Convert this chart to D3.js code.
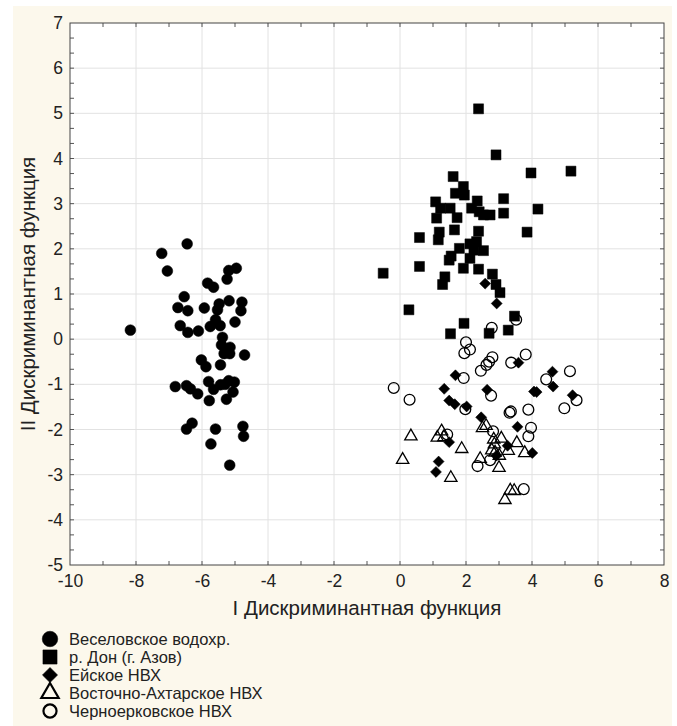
<!DOCTYPE html>
<html><head><meta charset="utf-8">
<script src="https://cdn.jsdelivr.net/npm/d3@7"></script>
<style>body{margin:0;background:#fff}svg{display:block;font-family:"Liberation Sans",Arial,sans-serif}</style>
</head><body><svg id="c" width="677" height="726"></svg>
<script>
const xTicks = [-10,-8,-6,-4,-2,0,2,4,6,8];
const yTicks = [-5,-4,-3,-2,-1,0,1,2,3,4,5,6,7];
const xTitle = "I Дискриминантная функция";
const yTitle = "II Дискриминантная функция";
const seriesNames = ["Веселовское водохр.","р. Дон (г. Азов)","Ейское НВХ","Восточно-Ахтарское НВХ","Черноерковское НВХ"];

const veselovskoe = [[-6.45,2.11],[-7.22,1.90],[-7.05,1.51],[-4.96,1.57],[-5.19,1.52],[-5.24,1.33],[-5.83,1.24],[-5.65,1.15],[-6.54,0.94],[-6.73,0.70],[-6.43,0.63],[-5.93,0.69],[-5.48,0.78],[-5.53,0.65],[-5.18,0.85],[-4.79,0.82],[-4.82,0.63],[-8.17,0.20],[-6.66,0.30],[-6.43,0.15],[-6.11,0.18],[-5.75,0.28],[-5.59,0.43],[-5.45,0.30],[-5.00,0.38],[-5.38,0.04],[-5.41,-0.13],[-5.15,-0.18],[-5.33,-0.32],[-5.16,-0.32],[-4.71,-0.35],[-6.02,-0.46],[-5.88,-0.61],[-5.44,-0.57],[-6.81,-1.05],[-6.47,-1.03],[-6.35,-1.10],[-6.13,-1.21],[-5.80,-0.94],[-5.65,-1.11],[-5.78,-1.36],[-5.44,-1.01],[-5.19,-0.92],[-5.02,-0.95],[-5.06,-1.17],[-5.26,-1.33],[-5.30,-1.00],[-6.30,-1.86],[-6.47,-1.99],[-5.59,-1.99],[-4.76,-1.93],[-4.74,-2.15],[-5.73,-2.32],[-5.16,-2.79]];
const don = [[2.38,5.10],[2.91,4.08],[3.97,3.68],[5.18,3.72],[1.61,3.60],[1.92,3.38],[1.68,3.23],[1.95,3.19],[1.08,3.04],[3.14,3.11],[2.34,3.06],[1.23,2.90],[1.52,2.90],[2.17,2.90],[2.40,2.82],[2.73,2.75],[2.53,2.75],[3.14,2.79],[4.18,2.88],[1.11,2.68],[1.73,2.69],[1.65,2.42],[1.19,2.37],[0.59,2.25],[1.16,2.20],[2.38,2.39],[3.85,2.37],[2.32,2.16],[2.12,2.11],[1.80,2.01],[2.24,1.97],[2.53,1.96],[1.55,1.84],[1.49,1.75],[2.12,1.79],[0.59,1.61],[-0.51,1.46],[1.92,1.57],[2.38,1.55],[1.36,1.38],[1.29,1.21],[2.80,1.44],[2.91,1.21],[3.03,1.03],[0.27,0.65],[3.47,0.51],[1.94,0.35],[3.28,0.20],[1.53,0.12],[2.70,0.13]];
const eyskoe = [[2.58,1.23],[2.93,0.79],[3.59,-0.52],[1.68,-0.80],[1.34,-1.10],[2.64,-1.12],[1.49,-1.36],[1.66,-1.44],[2.02,-1.49],[4.62,-0.72],[4.64,-1.05],[4.06,-1.16],[4.14,-1.17],[5.23,-1.24],[2.46,-1.73],[3.56,-1.94],[1.49,-2.28],[3.26,-2.36],[4.01,-2.52],[1.17,-2.71],[1.09,-2.94],[2.92,-2.58]];
const vostAkht = [[0.33,-2.15],[0.08,-2.67],[1.13,-2.18],[1.26,-2.04],[1.33,-2.17],[1.87,-2.43],[1.54,-3.07],[2.50,-1.97],[2.61,-1.92],[2.84,-2.22],[2.86,-2.33],[3.07,-2.20],[2.88,-2.51],[3.01,-2.58],[3.28,-2.47],[3.54,-2.30],[3.78,-2.52],[2.43,-2.65],[3.00,-2.85],[3.18,-3.56],[3.34,-3.35],[3.46,-3.36],[2.78,-2.46]];
const chernoerk = [[-0.19,-1.08],[0.29,-1.34],[2.00,-0.07],[2.12,-0.23],[1.95,-0.31],[1.93,-0.86],[1.98,-1.55],[2.78,0.25],[3.52,0.43],[2.80,-0.40],[2.70,-0.50],[2.45,-0.70],[2.62,-0.57],[3.37,-0.52],[3.81,-0.34],[4.43,-0.89],[5.15,-0.71],[5.35,-1.35],[4.98,-1.53],[3.89,-1.56],[3.32,-1.63],[3.36,-1.60],[3.97,-1.96],[3.89,-2.15],[2.82,-2.04],[1.43,-2.11],[2.76,-1.25],[2.35,-2.81],[2.73,-2.68],[3.75,-3.32]];

const svg = d3.select("#c");
svg.append("rect").attr("x",13).attr("y",6).attr("width",659).attr("height",720).attr("fill","#fcf8ec");

const L=70,R=664,T=23,B=565;
const x = d3.scaleLinear().domain([-10,8]).range([L,R]);
const y = d3.scaleLinear().domain([-5,7]).range([B,T]);

svg.append("rect").attr("x",L).attr("y",T).attr("width",R-L).attr("height",B-T).attr("fill","#fff");

// grid
const g = svg.append("g");
g.selectAll(".gx").data(xTicks.slice(1,-1)).join("line")
 .attr("x1",d=>x(d)).attr("x2",d=>x(d)).attr("y1",T).attr("y2",B).attr("stroke","#e2e2e2").attr("stroke-width",1);
g.selectAll(".gy").data(yTicks.slice(1,-1)).join("line")
 .attr("y1",d=>y(d)).attr("y2",d=>y(d)).attr("x1",L).attr("x2",R).attr("stroke","#e2e2e2").attr("stroke-width",1);

// minor inward ticks
const xMinor = d3.range(-9,8,1);
const yMinor = d3.range(1,36).map(i=>-5+i/3);
const tc="#555";
xMinor.forEach(v=>{
  svg.append("line").attr("x1",x(v)).attr("x2",x(v)).attr("y1",B).attr("y2",B-4).attr("stroke",tc);
  svg.append("line").attr("x1",x(v)).attr("x2",x(v)).attr("y1",T).attr("y2",T+4).attr("stroke",tc);
});
yMinor.forEach(v=>{
  svg.append("line").attr("y1",y(v)).attr("y2",y(v)).attr("x1",L).attr("x2",L+4).attr("stroke",tc);
  svg.append("line").attr("y1",y(v)).attr("y2",y(v)).attr("x1",R).attr("x2",R-4).attr("stroke",tc);
});

// axes labels
const ax = svg.append("g").attr("transform",`translate(0,${B})`)
  .call(d3.axisBottom(x).tickValues(xTicks).tickSize(0).tickPadding(10).tickFormat(d3.format("d")));
const ay = svg.append("g").attr("transform",`translate(${L},0)`)
  .call(d3.axisLeft(y).tickValues(yTicks).tickSize(0).tickPadding(7).tickFormat(d3.format("d")));
[ax,ay].forEach(a=>{a.select(".domain").remove();a.selectAll("text").attr("font-size",17.5).attr("fill","#222").attr("font-family","Liberation Sans, Arial, sans-serif");});
ax.selectAll("text").text(d=>d<0?"-"+Math.abs(d):d);
ay.selectAll("text").text(d=>d<0?"-"+Math.abs(d):d);

// frame
svg.append("rect").attr("x",L).attr("y",T).attr("width",R-L).attr("height",B-T).attr("fill","none").attr("stroke","#444").attr("stroke-width",1);

// titles
svg.append("text").attr("x",(L+R)/2).attr("y",615).attr("text-anchor","middle").attr("font-size",20.5).attr("fill","#222").text(xTitle);
svg.append("text").attr("transform",`translate(35,${(T+B)/2}) rotate(-90)`).attr("text-anchor","middle").attr("font-size",20.5).attr("fill","#222").text(yTitle);

// markers
const plot = svg.append("g");
function drawSet(data, type, size, filled, rot){
  const sym = d3.symbol().type(type).size(size);
  plot.selectAll(null).data(data).join("path")
    .attr("d",sym)
    .attr("transform",d=>`translate(${x(d[0])},${y(d[1])})${rot?" rotate(45)":""}`)
    .attr("fill",filled?"#000":"none")
    .attr("stroke","#000").attr("stroke-width",filled?0.5:1.3);
}
drawSet(veselovskoe, d3.symbolCircle, 92, true);
drawSet(don, d3.symbolSquare, 100, true);
drawSet(eyskoe, d3.symbolSquare, 60, true, true);
drawSet(vostAkht, d3.symbolTriangle, 66, false);
drawSet(chernoerk, d3.symbolCircle, 92, false);

// legend
const legTypes = [[d3.symbolCircle,190,true,false],[d3.symbolSquare,200,true,false],[d3.symbolSquare,115,true,true],[d3.symbolTriangle,130,false,false],[d3.symbolCircle,135,false,false]];
const leg = svg.append("g");
seriesNames.forEach((name,i)=>{
  const cy = 639 + i*18;
  const t = legTypes[i];
  leg.append("path").attr("d",d3.symbol().type(t[0]).size(t[1]))
    .attr("transform",`translate(50,${cy})${t[3]?" rotate(45)":""}`)
    .attr("fill",t[2]?"#000":"none").attr("stroke","#000").attr("stroke-width",t[2]?0.5:2.2);
  leg.append("text").attr("x",69).attr("y",cy).attr("dy","0.35em").attr("font-size",16.5).attr("fill","#222").text(name);
});
</script></body></html>
